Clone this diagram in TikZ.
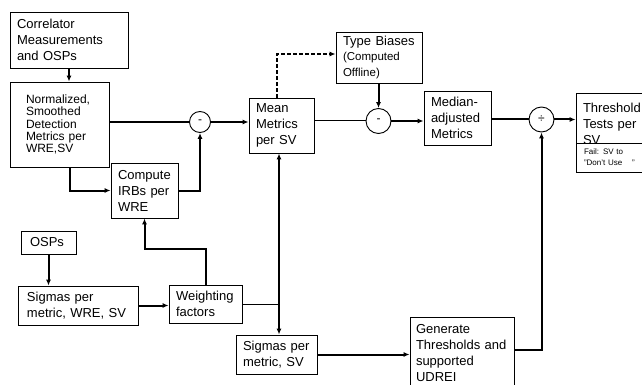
\documentclass[tikz,border=0pt]{standalone}
\usepackage{fontspec}
\setmainfont{Liberation Sans}
\usepackage{tikz}
\usetikzlibrary{shapes,arrows,arrows.meta,positioning}

\begin{document}
\begin{tikzpicture}[x=1pt, y=-1pt,
    blk/.style={draw, line width=0.9pt, align=left, inner xsep=7pt, inner ysep=0pt,
        font=\fontsize{13}{16}\selectfont},
    sumpt/.style={draw, circle, line width=0.9pt, minimum size=25pt, inner sep=0pt,
        font=\fontsize{12}{12}\selectfont},
    conn/.style={line width=2pt},
    lite/.style={line width=1pt},
    >={Latex[length=6pt,width=5pt]}]

% Page frame
\useasboundingbox (0,0) rectangle (642,385);
\clip (0,0) rectangle (642,385);

% Helper for drawing boxes
\newcommand{\blk}[7][]{%
    % #1 = extra options, #2 = name, #3,#4 = top left, #5,#6 = bottom right, #7 = text
    \pgfmathsetmacro{\boxw}{#5-#3}
    \pgfmathsetmacro{\boxh}{#6-#4}
    \pgfmathsetmacro{\boxtw}{#5-#3-14}
    \node[blk, minimum width=\boxw pt, minimum height=\boxh pt, text width=\boxtw pt, #1]
        (#2) at ({(#3+#5)/2}, {(#4+#6)/2}) {#7};
}

% Draw all boxes
\blk{corr}{10}{12}{128}{68}{Correlator\\Measurements\\and OSPs}
\blk[inner xsep=16pt, text width=67pt, font=\fontsize{12}{12.4}\selectfont]{norm}{10}{82}{109}{167}{Normalized,\\Smoothed\\Detection\\Metrics per\\WRE,SV}
\blk{irb}{111}{163}{178}{218}{Compute\\IRBs per\\WRE}
\blk{mean}{249}{98}{314}{153}{Mean\\Metrics\\per SV}
\blk{bias}{336}{32}{422}{83}{Type Biases\\\fontsize{11.5}{15}\selectfont(Computed\\Offline)}
\blk{median}{424}{91}{491}{145}{Median-\\adjusted\\Metrics}
\blk{thr}{576}{93}{662}{155}{Threshold\\Tests per\\SV}
\blk[fill=white, font=\fontsize{8}{11}\selectfont, inner xsep=8pt, text width=70pt]{fail}{576}{143}{662}{172}{Fail: SV to\\"Don't Use\hspace{10pt}"}
\blk[inner xsep=9pt, text width=37pt]{osp}{21}{231}{76}{254}{OSPs}
\blk[inner xsep=9pt, text width=102pt]{sigwre}{18}{286}{138}{325}{Sigmas per\\metric, WRE, SV}
\blk{weight}{169}{285}{242}{323}{Weighting\\factors}
\blk{sigsv}{236}{335}{317}{374}{Sigmas per\\metric, SV}
\blk[inner xsep=6pt, text width=92pt]{gen}{410}{317}{514}{390}{Generate\\Thresholds and\\supported\\UDREI}

% Summing points
\node[sumpt, minimum size=21pt] (c1) at (200,122) {-};
\node[sumpt] (c2) at (378.5,121) {-};
\node[sumpt] (c3) at (541.5,119.5) {÷};
\coordinate (jn) at (279,303);

% Top row connectors
\draw[conn,->] (corr.south) -- (corr.south |- norm.north);
\draw[conn] (c1.west -| norm.east) -- (c1.west);
\draw[conn,->] ([xshift=10.5pt]norm.south) |- (irb.west);
\draw[conn,->] (irb.east) -| (c1.south);
\draw[conn,->] (c1.east) -- (c1.east -| mean.west);
\draw[conn,->,dash pattern=on 4pt off 2pt] ([xshift=-4.5pt]mean.north) |- ([yshift=3.5pt]bias.west);
\draw[lite] (c2.west -| mean.east) -- (c2.west);
\draw[conn,->] (bias.south -| c2.north) -- (c2.north);
\draw[conn,->] (c2.east) -- (c2.east -| median.west);
\draw[conn] (c3.west -| median.east) -- (c3.west);
\draw[conn,->] (c3.east) -- (c3.east -| thr.west);

% Bottom connectors
\draw[conn,->] (osp.south) -- (osp.south |- sigwre.north);
\draw[conn,->] (sigwre.east) -- (sigwre.east -| weight.west);
\draw[conn,->] (weight.north) -- ++(0,-36) -| (irb.south);
\draw[lite] (weight.east) -- (weight.east -| jn);
\draw[conn,->] (jn) -- (jn |- mean.south);
\draw[conn,->] (jn) -- (jn |- sigsv.north);
\draw[conn,->] (sigsv.east) -- (sigsv.east -| gen.west);
\draw[conn,->] ([yshift=3.5pt]gen.east) -| (c3.south);

\end{tikzpicture}
\end{document}
